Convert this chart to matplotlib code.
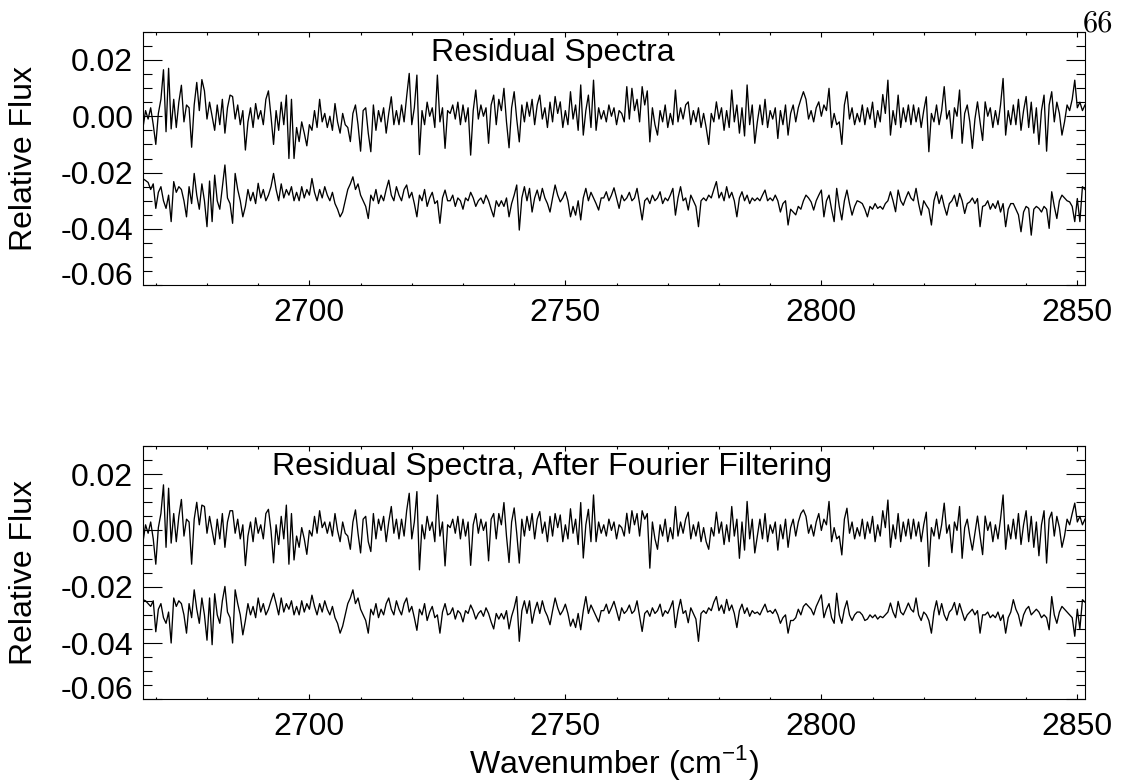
import numpy as np
import matplotlib
matplotlib.use('Agg')
import matplotlib.pyplot as plt
from matplotlib.ticker import MultipleLocator, FormatStrFormatter

plt.rcParams['font.family'] = ['Liberation Sans', 'DejaVu Sans']
plt.rcParams['axes.unicode_minus'] = False

# wavenumber range of the plots (cm^-1)
wn_min = 2667.5
wn_max = 2851.5

# fluxes, in units of 1e-4
# top panel, upper spectrum
raw_upper = [
    -40, 20, -10, 30, -30, -100, 10, 60, 165, -55, 170, -45, 60, -40, 50, 110, -20, 40, 30, -110,
    40, 120, 20, 130, 90, -10, 50, 0, -50, 40, -30, 60, -60, 30, 75, 70, -10, 40, -30, 20,
    -120, -20, 30, -40, 45, -10, 20, -30, 60, 90, 0, -100, 20, -50, 50, -30, 75, -150, 60, -150,
    -40, -90, -20, -60, -105, -30, -50, 20, -40, 60, -20, 10, -40, 0, -50, 45, -20, -60, 10, -30,
    -40, -90, 10, 40, -30, -124, 20, 30, -60, -126, 40, -50, 20, -20, 30, -60, 10, 69, -30, 20,
    -30, 40, -20, 70, 152, -30, 30, 146, -136, 20, -30, 50, 0, 30, -40, 146, -20, 30, -114, 20,
    10, 40, -10, 50, -30, 40, -20, 30, -138, 20, 93, -10, 40, 0, 30, -96, 40, 75, -30, 60,
    20, 99, -20, -112, 30, 87, -10, -91, 40, -20, 50, 0, 60, -30, 40, 75, -10, 30, -40, 50,
    -20, 70, 10, 51, -40, 20, -30, 87, -10, 40, -50, 111, -67, 20, 75, -40, 128, -50, 30, -10,
    20, -20, 40, 0, 30, -30, 20, 10, -20, 105, -10, 99, 20, 60, -20, 105, 40, 90, -91, 30,
    -30, -67, 20, -20, 40, -40, 10, -30, 93, -20, 30, -10, 40, 51, -30, 20, -20, 30, -40, 10,
    -40, -100, 10, -20, 51, -10, 30, -50, 20, -40, 93, -20, 40, -60, 30, -70, 111, -30, 40, -96,
    -20, 40, -30, 60, -40, 20, -10, 30, -79, 20, -30, 40, -67, 10, 40, -20, 30, 60, 87, 60,
    -10, 20, -20, 30, 51, 0, 40, 20, 99, -40, 10, -30, -20, -100, 40, 87, -10, 30, -30, 10,
    -20, 40, -30, 30, -10, 50, -40, 20, -20, 77, 10, 128, -67, 20, -30, 75, -40, 30, -20, 40,
    -30, 40, -20, 30, -40, 20, 69, -126, 10, -20, 40, -30, 20, 105, -10, 20, -79, 30, 0, 93,
    -96, 10, 40, -20, -114, -10, 51, -20, -86, 51, 0, 30, -40, 20, -30, 40, 134, -67, 20, -30,
    40, -30, 60, -50, 20, 70, -40, 50, -60, 30, -100, 20, 75, -124, 40, 87, -20, 50, 10, -67,
    -20, 40, 20, 60, 128, 30, 50, 20, 40]

# top panel, lower spectrum
raw_lower = [
    -222, -228, -235, -260, -240, -327, -270, -250, -300, -327, -280, -374, -232, -270, -250, -260, -300, -357, -250, -310,
    -203, -280, -330, -240, -300, -392, -230, -374, -209, -300, -330, -250, -173, -290, -310, -380, -203, -260, -300, -357,
    -320, -260, -300, -270, -310, -238, -290, -260, -300, -280, -250, -203, -260, -300, -240, -290, -260, -280, -250, -300,
    -270, -300, -250, -290, -260, -280, -221, -270, -300, -260, -290, -250, -280, -300, -270, -310, -330, -357, -340, -300,
    -260, -240, -215, -260, -240, -280, -300, -320, -363, -280, -300, -260, -310, -280, -300, -260, -227, -280, -300, -250,
    -280, -300, -260, -244, -290, -270, -310, -357, -280, -300, -260, -320, -290, -270, -310, -300, -380, -290, -262, -300,
    -300, -280, -320, -290, -300, -330, -290, -300, -270, -290, -320, -300, -290, -310, -280, -300, -330, -357, -300, -320,
    -300, -320, -290, -357, -310, -280, -244, -404, -290, -250, -300, -256, -340, -290, -262, -300, -256, -290, -310, -340,
    -290, -244, -280, -304, -290, -268, -300, -357, -320, -351, -300, -368, -290, -256, -300, -270, -290, -310, -333, -290,
    -290, -268, -300, -280, -254, -290, -327, -280, -300, -290, -270, -300, -290, -256, -310, -368, -300, -290, -310, -280,
    -300, -290, -268, -310, -290, -300, -280, -256, -351, -290, -250, -300, -290, -333, -280, -300, -320, -392, -300, -290,
    -300, -280, -290, -260, -232, -290, -270, -300, -250, -290, -270, -300, -357, -290, -268, -300, -280, -310, -290, -300,
    -290, -300, -280, -262, -300, -290, -300, -280, -300, -340, -310, -300, -386, -330, -340, -350, -320, -330, -300, -280,
    -290, -304, -333, -300, -280, -262, -357, -300, -280, -330, -374, -256, -320, -368, -300, -262, -310, -351, -320, -300,
    -304, -310, -330, -357, -320, -330, -310, -327, -320, -330, -310, -300, -268, -300, -339, -262, -300, -316, -290, -268,
    -290, -300, -256, -310, -351, -300, -316, -330, -386, -300, -268, -310, -280, -320, -351, -310, -300, -280, -320, -274,
    -300, -345, -310, -304, -290, -310, -292, -392, -320, -316, -300, -330, -310, -327, -300, -340, -310, -392, -330, -310,
    -310, -330, -350, -410, -340, -320, -327, -422, -330, -320, -327, -340, -320, -330, -398, -268, -320, -363, -300, -280,
    -290, -300, -304, -320, -374, -292, -374, -250, -260]

# bottom panel (after Fourier filtering), upper spectrum
filt_upper = [
    -40, 20, -10, 30, -30, -120, 10, 60, 162, -60, 150, -45, 60, -40, 50, 110, -20, 40, 30, -120,
    40, 100, 20, 90, 85, -10, 50, 0, -50, 40, -30, 60, -60, 30, 70, 70, -10, 40, -30, 20,
    -125, -20, 30, -40, 45, -10, 20, -30, 60, 75, 0, -115, 20, -50, 50, -30, 90, -120, 60, -105,
    -20, -60, 10, -30, -85, 0, -20, 50, -10, 70, 10, 30, -10, 30, -20, 60, 0, -40, 30, -10,
    -20, -67, 30, 73, -10, -80, 40, 50, -40, -75, 60, -30, 40, 0, 50, -40, 30, 85, -10, 40,
    -30, 40, -20, 70, 132, -30, 30, 138, -140, 20, -30, 50, 0, 30, -40, 126, -20, 30, -126, 20,
    10, 40, -10, 50, -30, 40, -20, 30, -124, 20, 60, -10, 40, 0, 30, -108, 40, 60, -30, 60,
    20, 99, -20, -114, 30, 80, -10, -116, 40, -20, 50, 0, 60, -30, 40, 67, -10, 30, -40, 50,
    -20, 60, 10, 55, -40, 20, -30, 77, -10, 40, -50, 99, -98, 20, 75, -40, 126, -40, 30, -10,
    20, -20, 40, 0, 30, -30, 20, 10, -20, 61, -10, 70, 20, 60, -20, 70, 40, 60, -134, 30,
    -30, -67, 20, -20, 40, -40, 10, -30, 85, -20, 30, -10, 40, 65, -30, 20, -20, 30, -40, 10,
    -40, -67, 10, -20, 65, -10, 30, -50, 20, -40, 85, -20, 40, -99, 30, -70, 103, -30, 40, -80,
    -20, 40, -30, 60, -40, 20, -10, 30, -70, 20, -30, 40, -60, 10, 40, -20, 30, 60, 73, 50,
    -10, 20, -20, 30, 60, 0, 40, 20, 103, -40, 10, -30, -20, -87, 40, 79, -10, 30, -30, 10,
    -20, 40, -30, 30, -10, 50, -40, 20, -20, 70, 10, 108, -60, 20, -30, 60, -40, 30, -20, 40,
    -30, 40, -20, 30, -40, 20, 65, -128, 10, -20, 40, -30, 20, 97, -10, 20, -79, 30, 0, 85,
    -99, 10, 40, -20, -70, -10, 51, -20, -86, 51, 0, 30, -40, 20, -30, 40, 126, -67, 20, -30,
    40, -30, 60, -50, 20, 70, -40, 50, -60, 30, -90, 20, 70, -116, 40, 65, -20, 50, 10, -60,
    -20, 40, 20, 60, 97, 30, 50, 20, 40]

# bottom panel (after Fourier filtering), lower spectrum
filt_lower = [
    -246, -250, -260, -270, -250, -360, -280, -260, -310, -330, -290, -400, -240, -270, -250, -260, -300, -365, -260, -310,
    -211, -280, -330, -240, -300, -390, -240, -406, -225, -300, -330, -250, -199, -290, -310, -400, -211, -260, -300, -371,
    -320, -260, -300, -270, -310, -240, -290, -260, -300, -280, -250, -223, -260, -300, -240, -290, -260, -280, -250, -300,
    -270, -300, -250, -290, -260, -280, -230, -270, -300, -260, -290, -250, -280, -300, -270, -310, -330, -365, -340, -300,
    -260, -240, -211, -260, -240, -280, -300, -320, -365, -280, -300, -260, -310, -280, -300, -260, -240, -280, -300, -250,
    -280, -300, -260, -240, -290, -270, -310, -355, -280, -300, -260, -320, -290, -270, -310, -300, -365, -290, -260, -300,
    -295, -275, -315, -285, -295, -325, -285, -295, -265, -285, -315, -295, -285, -305, -275, -295, -325, -350, -295, -315,
    -295, -315, -285, -350, -305, -275, -235, -394, -285, -250, -295, -250, -330, -285, -255, -295, -250, -285, -305, -335,
    -285, -240, -275, -300, -285, -262, -295, -340, -315, -345, -295, -353, -285, -235, -295, -265, -285, -305, -325, -285,
    -285, -262, -295, -275, -252, -285, -320, -275, -295, -285, -265, -295, -285, -250, -305, -359, -295, -285, -305, -275,
    -295, -285, -262, -305, -285, -295, -275, -250, -345, -285, -245, -295, -285, -328, -275, -295, -315, -394, -295, -285,
    -295, -275, -285, -255, -235, -285, -265, -295, -245, -285, -265, -295, -345, -285, -262, -295, -275, -305, -285, -295,
    -290, -300, -280, -262, -290, -285, -295, -280, -300, -330, -310, -300, -365, -320, -320, -310, -280, -300, -270, -260,
    -270, -280, -300, -270, -250, -229, -310, -280, -260, -310, -330, -223, -300, -330, -280, -250, -300, -320, -300, -290,
    -290, -300, -320, -315, -300, -310, -300, -315, -305, -310, -300, -290, -258, -290, -310, -252, -290, -300, -280, -258,
    -280, -290, -240, -300, -320, -290, -300, -320, -365, -290, -250, -300, -260, -300, -320, -290, -280, -256, -300, -260,
    -290, -320, -300, -290, -280, -300, -285, -365, -300, -300, -290, -310, -300, -310, -290, -320, -300, -365, -310, -290,
    -246, -280, -300, -340, -300, -280, -270, -300, -290, -280, -290, -310, -300, -310, -353, -235, -300, -330, -290, -270,
    -280, -290, -300, -310, -376, -280, -350, -246, -255]

panel_titles = ['Residual Spectra', 'Residual Spectra, After Fourier Filtering']
title_x = [2723.8, 2692.6]
title_y = 0.0196


def grid(vals):
    return np.linspace(wn_min, wn_max, len(vals))


fs = 23

fig = plt.figure(figsize=(11.26, 7.81), dpi=100)
ax1 = fig.add_axes([143/1126, 1-285.3/781, 942/1126, 253.6/781])
ax2 = fig.add_axes([143/1126, 1-699.3/781, 942/1126, 253.3/781])

series = [(raw_upper, raw_lower), (filt_upper, filt_lower)]

for i, ax in enumerate([ax1, ax2]):
    up, lo = series[i]
    ax.plot(grid(up), np.array(up)*1e-4, color='k', lw=0.95)
    ax.plot(grid(lo), np.array(lo)*1e-4, color='k', lw=0.95)
    ax.set_xlim(wn_min, wn_max)
    ax.set_ylim(-0.06, 0.03)
    ax.xaxis.set_major_locator(MultipleLocator(50))
    ax.xaxis.set_minor_locator(MultipleLocator(10))
    ax.yaxis.set_major_locator(MultipleLocator(0.02))
    ax.yaxis.set_minor_locator(MultipleLocator(0.005))
    ax.yaxis.set_major_formatter(FormatStrFormatter('%.2f'))
    ax.tick_params(axis='both', which='both', direction='in', top=True, right=True,
                   labelsize=fs, width=0.8, colors='k')
    ax.tick_params(axis='y', which='major', length=13.7, pad=7)
    ax.tick_params(axis='y', which='minor', length=6.8)
    ax.tick_params(axis='x', which='major', length=3.6, pad=9.5)
    ax.tick_params(axis='x', which='minor', length=1.8)
    for sp in ax.spines.values():
        sp.set_linewidth(0.8)
    ax.text(title_x[i], title_y, panel_titles[i], fontsize=fs, ha='left', va='baseline')
    fig.canvas.draw()
    # lowest label sits on the bottom axis, like the original
    for lab in ax.get_yticklabels():
        if lab.get_text() == '-0.06':
            lab.set_va('baseline')

fig.text(24.5/1126, 1-158.5/781, 'Relative Flux', rotation=90, ha='center', va='center', fontsize=fs)
fig.text(24.5/1126, 1-572.7/781, 'Relative Flux', rotation=90, ha='center', va='center', fontsize=fs)
fig.text(614/1126, 1-772.5/781, r'Wavenumber (cm$^{\mathregular{-1}}$)', ha='center', va='baseline', fontsize=fs)
fig.text(1113/1126, 1-32/781, '66', ha='right', va='baseline', fontsize=22, family='cmr10')

fig.savefig('out.png', dpi=100)
